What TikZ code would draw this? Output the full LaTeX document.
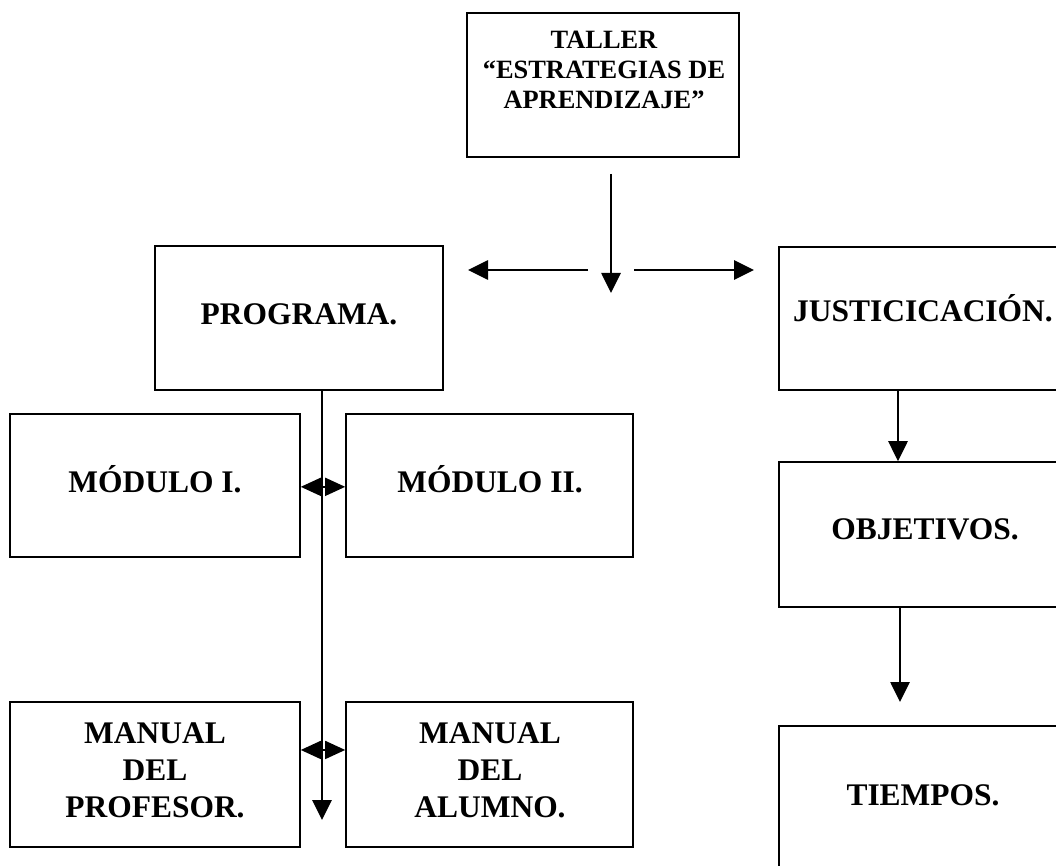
\documentclass[tikz,border=0pt]{standalone}
\usepackage{fontspec}
\setmainfont{Liberation Serif}
\usetikzlibrary{arrows.meta,fit}
\tikzset{
  x=0.75pt, y=-0.75pt,
  box/.style={draw, line width=1.2pt, inner sep=0pt},
  txt/.style={anchor=base, align=center, font=\bfseries\fontsize{23.6}{27.75}\selectfont},
  ttxt/.style={anchor=base, align=center, font=\bfseries\fontsize{19.8}{22.5}\selectfont},
  arr/.style={line width=1.2pt, -{Triangle[length=15pt,width=14.5pt]}},
  darr/.style={line width=1.2pt, {Triangle[length=15pt,width=13.5pt]}-{Triangle[length=15pt,width=13.5pt]}},
}
\begin{document}
\begin{tikzpicture}
\useasboundingbox (0,0) rectangle (1056,866);
\fill[white] (0,0) rectangle (1056,866);
\clip (0,0) rectangle (1056,866);
% boxes
\node[box, fit={(467,13) (739,157)}] (taller) {};
\node[box, fit={(155,246) (443,390)}] (programa) {};
\node[box, fit={(779,247) (1068,390)}] (just) {};
\node[box, fit={(779,462) (1068,607)}] (obj) {};
\node[box, fit={(779,726) (1068,872)}] (tiempos) {};
\node[box, fit={(10,414) (300,557)}] (mod1) {};
\node[box, fit={(346,414) (633,557)}] (mod2) {};
\node[box, fit={(10,702) (300,847)}] (man1) {};
\node[box, fit={(346,702) (633,847)}] (man2) {};
% texts (base anchor = baseline of the last line)
\node[ttxt] (ttaller) at (604,109) {TALLER\\“ESTRATEGIAS DE\\APRENDIZAJE”};
\node[txt] (tprog) at (299,324) {PROGRAMA.};
\node[txt] (tjust) at (923,321) {JUSTICICACIÓN.};
\node[txt] (tobj) at (925,539) {OBJETIVOS.};
\node[txt] (ttiem) at (923,805) {TIEMPOS.};
\node[txt] (tmod1) at (155,492) {MÓDULO I.};
\node[txt] (tmod2) at (490,492) {MÓDULO II.};
\node[txt] (tman1) at (155,817) {MANUAL\\DEL\\PROFESOR.};
\node[txt] (tman2) at (490,817) {MANUAL\\DEL\\ALUMNO.};
% connector coordinates
\coordinate (dstart) at (611,174);
\coordinate (dend) at (611,293);
\coordinate (lstart) at (588,270);
\coordinate (lend) at (468,270);
\coordinate (rstart) at (634,270);
\coordinate (rend) at (754,270);
\coordinate (pend) at (322,820);
\coordinate (jx) at (898,0);
\coordinate (oend) at (900,702);
% connectors
\draw[arr] (dstart) -- (dend);
\draw[arr] (lstart) -- (lend);
\draw[arr] (rstart) -- (rend);
\draw[arr] (programa.south -| pend) -- (pend);
\draw[darr] ([yshift=-1pt]mod1.east) -- ([yshift=-1pt]mod2.west);
\draw[darr] ([yshift=18.4pt]man1.east) -- ([yshift=18.4pt]man2.west);
\draw[arr] (just.south -| jx) -- (obj.north -| jx);
\draw[arr] (obj.south -| oend) -- (oend);
\end{tikzpicture}
\end{document}
